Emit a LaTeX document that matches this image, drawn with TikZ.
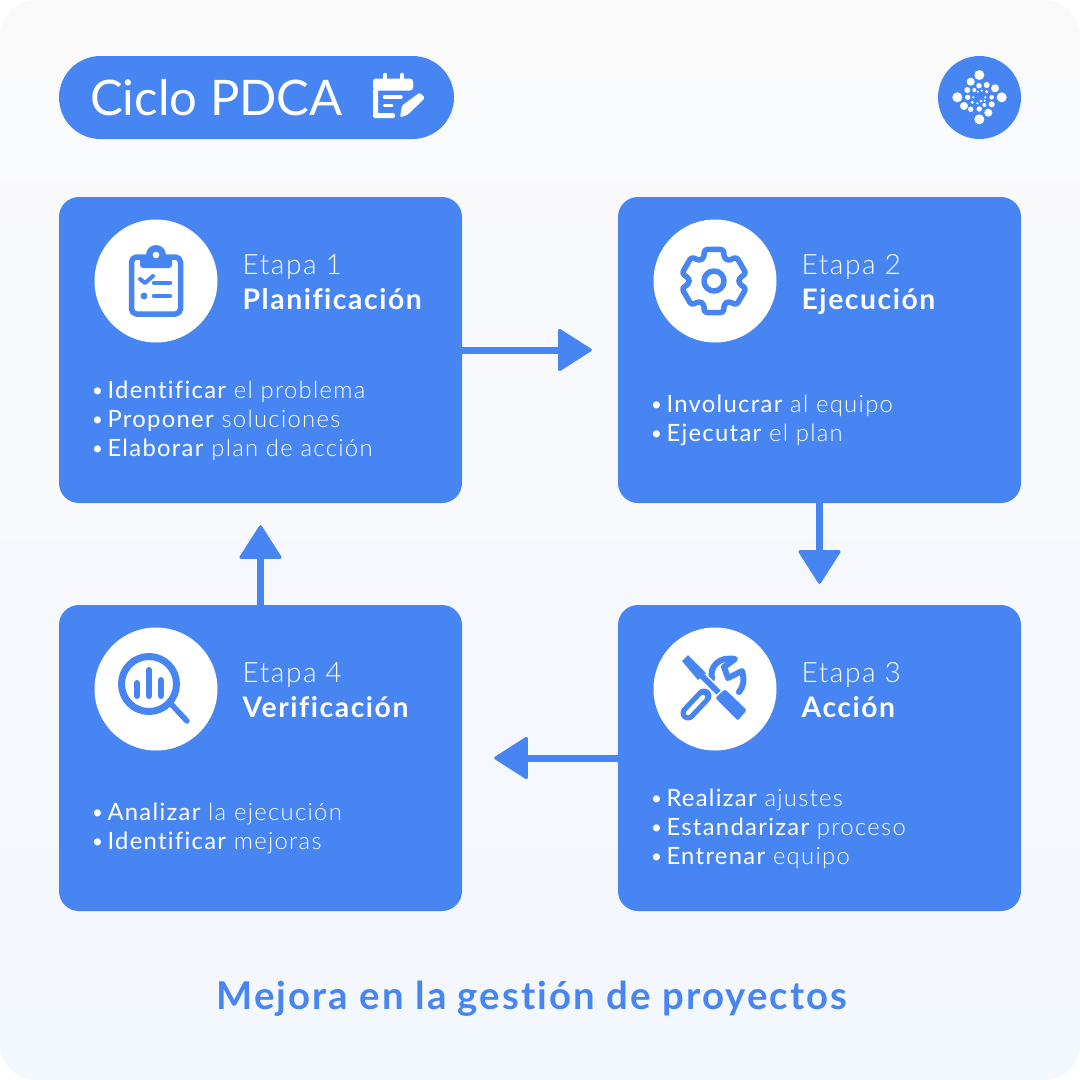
\documentclass[tikz,border=0pt]{standalone}
\usepackage{fontspec}
\setmainfont{Lato Light}[LetterSpace=5.5,RawFeature=-liga]
\newfontfamily\regfont{Lato}[LetterSpace=5.5,RawFeature=-liga]
\newfontfamily\headfont{Lato}
\usetikzlibrary{arrows.meta,positioning,shapes.misc}
\definecolor{pdcablue}{HTML}{4785F2}
\definecolor{fondotop}{HTML}{FAFAFB}
\definecolor{fondobot}{HTML}{F3F7FE}

\tikzset{
	card/.style={fill=pdcablue,rounded corners=20pt,minimum width=403pt,minimum height=306pt,inner sep=0pt},
	badge/.style={circle,fill=white,minimum size=123pt,inner sep=0pt},
	etapa/.style={text=white,anchor=base west,inner sep=0pt,font=\fontsize{28}{28}\selectfont},
	titulo/.style={text=white,anchor=base west,inner sep=0pt,font=\regfont\bfseries\fontsize{28.3}{28.3}\selectfont},
	punto/.style={text=white,anchor=base west,inner sep=0pt,font=\fontsize{23.8}{23.8}\selectfont},
	flow/.style={draw=pdcablue,line width=7pt,-{Triangle[round,length=35pt,width=44pt,line width=3pt]}},
	icon/.style={draw=pdcablue,line width=5.5pt,line cap=round,line join=round},
}
\newcommand{\fuerte}[1]{{\regfont #1}}

\begin{document}
\begin{tikzpicture}[x=1pt,y=-1pt]
	\useasboundingbox (0,0) rectangle (1080,1080);
	\fill[white] (0,0) rectangle (1080,1080);
	\shade[rounded corners=36pt,top color=fondotop,bottom color=fondobot] (0,0) rectangle (1080,1080);

	% header
	\node[rounded rectangle,fill=pdcablue,minimum width=395pt,minimum height=83pt,inner sep=0pt] (header) at (256.5,97.5) {};
	\node[text=white,anchor=base west,inner sep=0pt,font=\headfont\fontsize{49}{49}\selectfont] (headertext) at (90,115) {Ciclo PDCA};
	\node[circle,fill=pdcablue,minimum size=83pt,inner sep=0pt] (logo) at (979.5,97.5) {};

	% cards
	\node[card] (plan) at (260.5,350) {};
	\node[card] (ejec) at (819.5,350) {};
	\node[card] (acci) at (819.5,758) {};
	\node[card] (veri) at (260.5,758) {};

	\node[badge] (planicon) at (156,281) {};
	\node[badge] (ejecicon) at (715,281) {};
	\node[badge] (acciicon) at (715,689) {};
	\node[badge] (veriicon) at (156,689) {};

	% texts
	\node[etapa] (plan1) at (242.5,274) {Etapa 1};
	\node[titulo] (plan2) at (242.5,309) {Planificación};
	\node[etapa] (ejec1) at (801.5,274) {Etapa 2};
	\node[titulo] (ejec2) at (801.5,309) {Ejecución};
	\node[etapa] (acci1) at (801.5,682) {Etapa 3};
	\node[titulo] (acci2) at (801.5,717) {Acción};
	\node[etapa] (veri1) at (242.5,682) {Etapa 4};
	\node[titulo] (veri2) at (242.5,717) {Verificación};

	\node[punto] (plana) at (90.5,398) {•\hspace{3pt}\fuerte{Identificar} el problema};
	\node[punto] (planb) at (90.5,427) {•\hspace{3pt}\fuerte{Proponer} soluciones};
	\node[punto] (planc) at (90.5,456) {•\hspace{3pt}\fuerte{Elaborar} plan de acción};
	\node[punto] (ejeca) at (649.5,412) {•\hspace{3pt}\fuerte{Involucrar} al equipo};
	\node[punto] (ejecb) at (649.5,441) {•\hspace{3pt}\fuerte{Ejecutar} el plan};
	\node[punto] (accia) at (649.5,806) {•\hspace{3pt}\fuerte{Realizar} ajustes};
	\node[punto] (accib) at (649.5,835) {•\hspace{3pt}\fuerte{Estandarizar} proceso};
	\node[punto] (accic) at (649.5,864) {•\hspace{3pt}\fuerte{Entrenar} equipo};
	\node[punto] (veria) at (90.5,820) {•\hspace{3pt}\fuerte{Analizar} la ejecución};
	\node[punto] (verib) at (90.5,849) {•\hspace{3pt}\fuerte{Identificar} mejoras};

	\node[text=pdcablue,inner sep=0pt,anchor=base,font=\regfont\bfseries\fontsize{38.3}{38.3}\selectfont] (lema) at (532,1009) {Mejora en la gestión de proyectos};

	% arrows
	\draw[flow,shorten >=26pt] (plan) -- (ejec);
	\draw[flow,shorten >=21pt] (ejec) -- (acci);
	\draw[flow,shorten >=32pt] (acci) -- (veri);
	\draw[flow,shorten >=22pt] (veri) -- (plan);

	% header icon
	\begin{scope}[shift={(400,97.5)}]
		\fill[white,rounded corners=3pt] (-27,-19) rectangle (13,-7);
		\draw[white,line width=3.5pt,line cap=round] (-15,-23) -- (-15,-15) (2,-23) -- (2,-15);
		\fill[white,rounded corners=3pt] (-27,-10) rectangle (-22,20.5);
		\fill[white,rounded corners=2pt] (-27,15.5) rectangle (-5,20.5);
		\draw[white,line width=3.5pt,line cap=round] (-15.5,-0.5) -- (1,-0.5) (-15.5,8) -- (-8,8);
		\fill[white,rounded corners=1.5pt] (0,20) -- (2,8) -- (20,-5) -- (25,0.5) -- (8,17) -- cycle;
	\end{scope}

	% logo dots
	\foreach \px/\py/\ps in {979.3/75/5,970.7/81.7/4,995/88.3/4,1001.7/97.3/5,957.3/97.3/5,964/106/4,988.3/112.7/4,979.3/119.3/5,967.3/90/3,979/85.7/2.7,986.7/85/3,991.7/97.3/2.3,991.7/104.3/3,967.7/97.3/2.7,970.7/109.3/2.7,979.3/109/2.7,984.3/105/2,974.3/90/2,986.7/91.7/1.7,972.3/102.3/1.7,977.7/91.7/1.2,981.7/90.7/1.2,985.3/97.3/1.2,984.7/100.7/1.2,981/101/1.3,977.3/103.3/1.2,973.3/97.3/1.2}
		\fill[white] (\px,\py) circle [radius=\ps pt];

	% clipboard
	\begin{scope}[shift={(156,281)}]
		\draw[icon,rounded corners=5pt] (-24.5,-24) rectangle (24.5,33);
		\fill[pdcablue,rounded corners=3pt] (-16,-25) rectangle (16,-13);
		\fill[pdcablue] (0,-26) circle [radius=10pt];
		\fill[white] (0,-26) circle [radius=3.3pt];
		\draw[pdcablue,line width=4pt,line cap=round,line join=round] (-16,-2) -- (-11,2) -- (-3,-5);
		\draw[pdcablue,line width=4.5pt,line cap=round] (-2,2) -- (14,2) (-2,15) -- (14,15);
		\fill[pdcablue] (-12,15) circle [radius=3.5pt];
	\end{scope}

	% gear
	\begin{scope}[shift={(714,281)}]
		\draw[icon,rounded corners=3pt] (-90-17:33pt)
			\foreach \a in {-90,-30,30,90,150,210} { -- (\a-17:33pt) -- (\a+17:33pt) -- (\a+24:25pt) -- (\a+36:25pt) } -- cycle;
		\draw[icon] (0,0) circle [radius=10pt];
	\end{scope}

	% tools
	\begin{scope}[shift={(715,689)}]
		\draw[pdcablue,line width=15pt,line cap=round] (-27,24) -- (-11,7);
		\draw[white,line width=4.5pt,line cap=round] (-27,24) -- (-12,8);
		\draw[pdcablue,line width=6pt,line cap=round,line join=round] (-3,-10) .. controls (-6,-22) and (4,-33) .. (20,-30) -- (9,-22) -- (13,-11) -- (27,-18) .. controls (30,-8) and (28,-2) .. (24,3);
		\fill[pdcablue] (-33,-28) -- (-27,-34) -- (-9,-16) -- (-17,-9) -- cycle;
		\draw[white,line width=9pt] (-11,-11) -- (3,3);
		\draw[pdcablue,line width=6pt] (-14,-14) -- (4,4);
		\fill[pdcablue,rounded corners=3pt,draw=white,line width=1.5pt] (10,-1) -- (33,21) -- (23,33) -- (-1,9) -- cycle;
	\end{scope}

	% magnifier
	\begin{scope}[shift={(156,689)}]
		\draw[pdcablue,line width=7pt] (-7,-5) circle [radius=27.5pt];
		\draw[icon] (16,16) -- (31,32);
		\draw[pdcablue,line width=6pt,line cap=round] (-19,-6) -- (-19,7) (-7,-19) -- (-7,7) (5,-9) -- (5,7);
	\end{scope}
\end{tikzpicture}
\end{document}
